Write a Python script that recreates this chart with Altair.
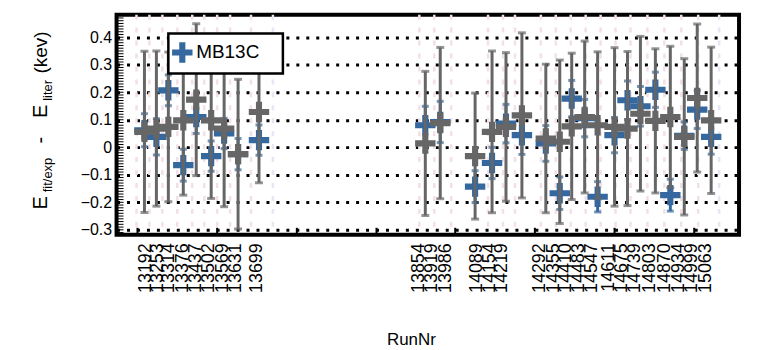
import altair as alt
import pandas as pd
import numpy as np

# ---- data ----
run_labels = ['13192', '13253', '13314', '13376', '13437', '13502', '13569', '13631', '13699',
              '13854', '13919', '13986', '14089', '14154', '14219',
              '14292', '14355', '14410', '14483', '14547', '14611', '14675', '14739', '14803',
              '14870', '14934', '14999', '15063']
label_t = [29, 41, 52, 66, 79, 92, 106, 119, 141,
           303, 316, 330, 361, 374, 387,
           425, 439, 451, 464, 477, 494, 507, 520, 535, 550, 564, 577, 591]

pt_t = [28, 40, 52, 67, 80, 95, 108, 122, 143,
        310, 325, 360, 377, 391, 407,
        431, 445, 457, 470, 483, 500, 513, 526, 541, 556, 570, 583, 597]
gray_val = [0.056, 0.068, 0.074, 0.098, 0.173, 0.098, 0.068, -0.025, 0.128,
            0.014, 0.088, -0.032, 0.056, 0.074, 0.116,
            0.032, 0.020, 0.076, 0.110, 0.080, 0.074, 0.068, 0.122, 0.096,
            0.110, 0.038, 0.179, 0.098]
gray_err = [0.293, 0.282, 0.272, 0.272, 0.276, 0.284, 0.284, 0.272, 0.257,
            0.262, 0.275, 0.229, 0.294, 0.270, 0.300,
            0.270, 0.297, 0.266, 0.276, 0.267, 0.288, 0.280, 0.281, 0.262,
            0.257, 0.284, 0.269, 0.266]
blue_val = [0.062, 0.038, 0.207, -0.065, 0.110, -0.032, 0.050, -0.025, 0.026,
            0.080, 0.092, -0.143, -0.057, 0.086, 0.044,
            0.014, -0.167, 0.177, 0.106, -0.180, 0.044, 0.171, 0.149, 0.209,
            -0.174, 0.042, 0.137, 0.038]
blue_err = [0.060, 0.066, 0.056, 0.058, 0.060, 0.055, 0.055, 0.057, 0.055,
            0.069, 0.075, 0.058, 0.057, 0.070, 0.070,
            0.065, 0.059, 0.066, 0.068, 0.055, 0.064, 0.070, 0.072, 0.064,
            0.058, 0.050, 0.069, 0.063]

faint_pink_t = [20, 33, 46, 61, 76, 88, 101, 114, 135, 304, 319, 336, 373, 388, 400,
                426, 441, 456, 471, 486, 501, 516, 533, 550, 567, 584]
faint_blue_t = [157, 605]

y_major = [-0.3, -0.2, -0.1, 0.0, 0.1, 0.2, 0.3, 0.4]
x_major_ticks = [21, 101, 181, 261, 340, 420, 500, 580]
legend_label = "MB13C"

# ---- styles ----
BLUE = "#35689e"
GRAY = "#666666"
CROSS = "M-1,-0.3H-0.3V-1H0.3V-0.3H1V0.3H0.3V1H-0.3V0.3H-1Z"
FONT = "Liberation Sans"
W, H = 625, 221

df = pd.DataFrame({"t": pt_t, "g": gray_val, "ge": gray_err, "b": blue_val, "be": blue_err})
df["glo"] = df["g"] - df["ge"]
df["ghi"] = df["g"] + df["ge"]
df["blo"] = df["b"] - df["be"]
df["bhi"] = df["b"] + df["be"]

xs = alt.Scale(domain=[0, W], nice=False, zero=False)
ys = alt.Scale(domain=[-0.318, 0.482], nice=False, zero=False)

lab_expr = ("[" + ",".join(f"'{r}'" for r in run_labels) + "][indexof(["
            + ",".join(str(v) for v in label_t) + "], datum.value)]")

xaxis = alt.Axis(values=label_t, labelExpr=lab_expr, labelAngle=270, labelAlign="right",
                 labelBaseline="middle", labelFont=FONT, labelFontSize=18, labelColor="black",
                 labelPadding=8, ticks=False, domain=False, grid=False, title=None,
                 labelOverlap=False, labelFlush=False, labelBound=False)
yaxis = alt.Axis(values=y_major, labelExpr="datum.value == 0 ? '0' : format(datum.value, '.1f')",
                 grid=True, gridColor="black", gridDash=[3, 7], gridWidth=3, gridOpacity=1,
                 ticks=False, domain=False, labelFont=FONT, labelFontSize=16, labelColor="black",
                 labelPadding=5, title=None, labelOverlap=False, labelFlush=False)

X = lambda f: alt.X(f, scale=xs, axis=xaxis)
Y = lambda f: alt.Y(f, scale=ys, axis=yaxis)

faint = pd.DataFrame({"t": faint_pink_t + faint_blue_t,
                      "c": ["#f2e0e6"] * len(faint_pink_t) + ["#e4e7f4"] * len(faint_blue_t)})
faint_layer = alt.Chart(faint).mark_rule(strokeWidth=2.5, strokeDash=[5, 8]).encode(
    x=X("t:Q"), color=alt.Color("c:N", scale=None))

ytk = pd.DataFrame({"v": np.round(np.arange(-0.31, 0.4801, 0.01), 3)})
ytick_layer = alt.Chart(ytk).mark_rule(color="black", strokeWidth=1).encode(
    y=Y("v:Q"), x=alt.value(0), x2=alt.value(7))

xtk = pd.DataFrame({"t": x_major_ticks})
xtick_layer = alt.Chart(xtk).mark_rule(color="black", strokeWidth=2).encode(
    x=X("t:Q"), y=alt.value(H), y2=alt.value(H - 7))

base = alt.Chart(df)
blue_rule = base.mark_rule(color=BLUE, strokeWidth=3).encode(x=X("t:Q"), y=Y("blo:Q"), y2="bhi:Q")
blue_cap_lo = base.mark_tick(color=BLUE, orient="horizontal", size=7, thickness=3).encode(x=X("t:Q"), y=Y("blo:Q"))
blue_cap_hi = base.mark_tick(color=BLUE, orient="horizontal", size=7, thickness=3).encode(x=X("t:Q"), y=Y("bhi:Q"))
blue_pts = base.mark_point(shape=CROSS, filled=True, size=420, color=BLUE, opacity=1).encode(
    x=X("t:Q"), y=Y("b:Q"))
gray_rule = base.mark_rule(color=GRAY, strokeWidth=3).encode(x=X("t:Q"), y=Y("glo:Q"), y2="ghi:Q")
gray_cap_lo = base.mark_tick(color=GRAY, orient="horizontal", size=8, thickness=3).encode(x=X("t:Q"), y=Y("glo:Q"))
gray_cap_hi = base.mark_tick(color=GRAY, orient="horizontal", size=8, thickness=3).encode(x=X("t:Q"), y=Y("ghi:Q"))
gray_pts = base.mark_point(shape=CROSS, filled=True, size=420, color=GRAY, opacity=1).encode(
    x=X("t:Q"), y=Y("g:Q"))

one = pd.DataFrame({"k": [0]})
leg_box = alt.Chart(one).mark_rect(fill="white", stroke="black", strokeWidth=2.5).encode(
    x=alt.value(52), x2=alt.value(167), y=alt.value(19), y2=alt.value(59))
leg_pt = alt.Chart(one).mark_point(shape=CROSS, filled=True, size=420, color=BLUE, opacity=1).encode(
    x=alt.value(66), y=alt.value(38))
leg_txt = alt.Chart(one).mark_text(text=legend_label, align="left", baseline="middle", font=FONT,
                                   fontSize=19, color="black").encode(x=alt.value(80), y=alt.value(38))


def label(s, x, y, size, angle=0):
    return alt.Chart(one).mark_text(text=s, align="center", baseline="middle", font=FONT,
                                    fontSize=size, color="black", angle=angle).encode(
        x=alt.value(x), y=alt.value(y))


titles = [
    label("E", -76, 189, 20, 270),
    label("fit/exp", -69, 161, 13, 270),
    label("-", -76, 126, 20, 270),
    label("E", -76, 97, 20, 270),
    label("liter", -69, 76, 13, 270),
    label("(kev)", -76, 38, 19, 270),
    label("RunNr", 296, 327, 17),
]

chart = alt.layer(
    faint_layer, ytick_layer, xtick_layer,
    blue_rule, blue_cap_lo, blue_cap_hi, blue_pts,
    gray_rule, gray_cap_lo, gray_cap_hi, gray_pts,
    leg_box, leg_pt, leg_txt, *titles
).properties(
    width=W, height=H,
    autosize=alt.AutoSizeParams(type="none"),
    padding={"left": 109, "top": 6, "right": 10, "bottom": 113},
).configure_view(stroke="black", strokeWidth=4)

chart.save("out.html", embed_options={"renderer": "svg", "actions": False})
